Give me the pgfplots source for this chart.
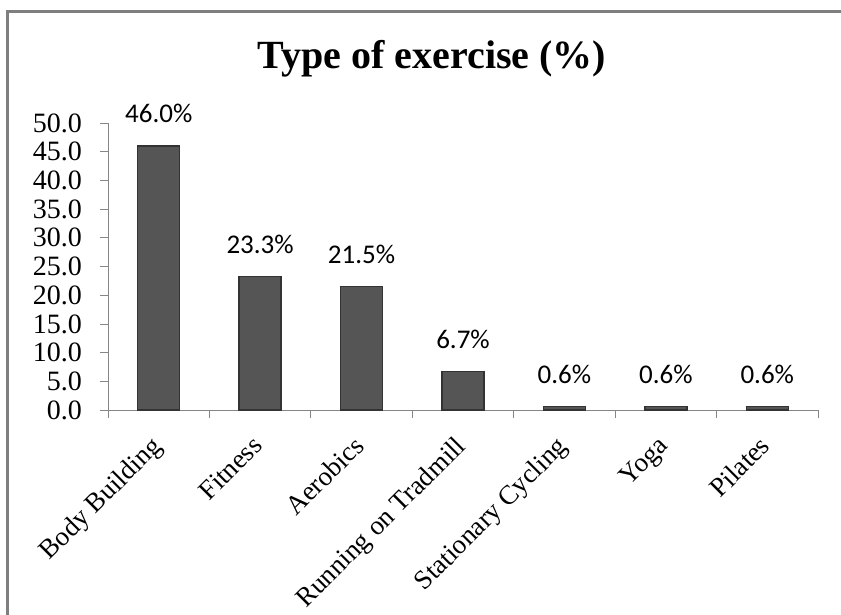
\documentclass[border=0pt]{standalone}
\usepackage{pgfplots}
\pgfplotsset{compat=1.18}
\usepackage{fontspec}
\setmainfont{Liberation Serif}
\newfontfamily\calibri{Carlito}
\definecolor{barEdge}{HTML}{333333}
\definecolor{barMid}{HTML}{555555}
\definecolor{axgray}{HTML}{868686}
\definecolor{framegray}{HTML}{7F7F7F}
\begin{document}
\begin{tikzpicture}
\useasboundingbox (0,0) rectangle (841bp,615bp);
\draw[framegray, line width=3bp] (7bp,0) -- (7bp,603bp) -- (841bp,603bp);
\node[anchor=base, font=\bfseries\fontsize{40bp}{44bp}\selectfont, inner sep=0pt] at (432bp,546bp) {Type of exercise (\%)};
\begin{axis}[
  at={(108bp,205bp)}, anchor=south west,
  scale only axis, width=710bp, height=287bp,
  xmin=-0.5, xmax=6.5, ymin=0, ymax=50,
  axis lines*=left,
  axis line style={axgray, line width=0.8pt},
  clip=false,
  /pgf/number format/assume math mode=true,
  ytick={0,5,...,50},
  yticklabel={\pgfmathprintnumber[fixed,fixed zerofill,precision=1]{\tick}},
  yticklabel style={font=\fontsize{28bp}{30bp}\selectfont, inner sep=0pt, xshift=-18bp},
  xtick={0,...,6},
  xticklabels={Body Building,Fitness,Aerobics,Running on Tradmill,Stationary Cycling,Yoga,Pilates},
  xticklabel style={font=\fontsize{27bp}{30bp}\selectfont, rotate=45, anchor=north east, inner sep=0pt, xshift=-18bp, yshift=-5bp},
  minor xtick={-0.5,0.5,...,6.5},
  tick align=outside,
  major tick length=8bp, minor tick length=8bp,
  major x tick style={draw=none},
  tick style={axgray, line width=0.8pt},
  ybar, bar width=0.414,
  nodes near coords={\pgfmathprintnumber[fixed,fixed zerofill,precision=1]{\pgfplotspointmeta}\%},
  every node near coord/.append style={font=\calibri\fontsize{27bp}{30bp}\selectfont, anchor=base, inner sep=0pt, yshift=23bp},
]
\addplot[draw=barEdge, line width=1.5bp, fill=barMid] coordinates {
(0,46.0) (1,23.3) (2,21.5) (3,6.7) (4,0.6) (5,0.6) (6,0.6)
};
\end{axis}
\end{tikzpicture}
\end{document}
